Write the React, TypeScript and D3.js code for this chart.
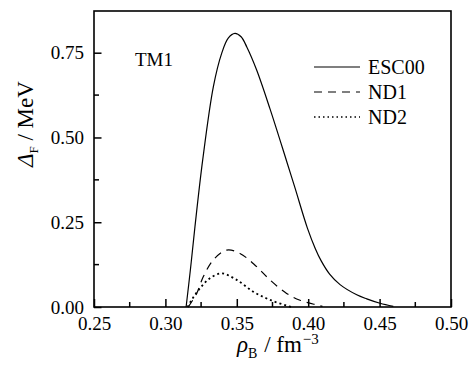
import { useEffect, useRef } from "react"
import * as d3 from "d3"

const xTicks = [0.25, 0.3, 0.35, 0.4, 0.45, 0.5]
const yTicks = [0, 0.25, 0.5, 0.75]

// rho_B (fm^-3) and gap (MeV)
const escX = [0.3145, 0.3175, 0.3207, 0.3261, 0.3336, 0.3394, 0.344, 0.3487, 0.353, 0.357, 0.3639, 0.3732, 0.3849, 0.3907, 0.3995, 0.405, 0.4091, 0.415, 0.4223, 0.434, 0.441, 0.4503, 0.4596]
const escY = [0, 0.11, 0.237, 0.433, 0.65, 0.748, 0.793, 0.807, 0.797, 0.767, 0.699, 0.585, 0.43, 0.352, 0.232, 0.172, 0.136, 0.097, 0.066, 0.036, 0.024, 0.011, 0.002]

const nd1X = [0.316, 0.3219, 0.3265, 0.3336, 0.3429, 0.3522, 0.3639, 0.3732, 0.3849, 0.3943, 0.406, 0.41]
const nd1Y = [0, 0.04, 0.089, 0.139, 0.168, 0.158, 0.119, 0.08, 0.04, 0.02, 0.006, 0.002]

const nd2X = [0.3155, 0.3184, 0.3242, 0.3312, 0.3394, 0.3499, 0.3616, 0.3732, 0.3849, 0.388]
const nd2Y = [0, 0.021, 0.055, 0.085, 0.099, 0.08, 0.045, 0.021, 0.004, 0]

const seriesNames = ["ESC00", "ND1", "ND2"]
const dashes = ["none", "8 6", "2 3"]

export default function App() {
  const ref = useRef<SVGSVGElement | null>(null)

  useEffect(() => {
    document.body.style.margin = "0"
    const svg = d3.select(ref.current)
    svg.selectAll("*").remove()

    const width = 471
    const height = 368
    const margin = { top: 11, right: 20, bottom: 61, left: 94 }
    const font = "Liberation Serif"

    svg.attr("width", width).attr("height", height)
      .style("font-family", font)

    const x = d3.scaleLinear()
      .domain([0.25, 0.5])
      .range([margin.left, width - margin.right])

    const y = d3.scaleLinear()
      .domain([0, 0.873])
      .range([height - margin.bottom, margin.top])

    const bottom = height - margin.bottom

    // X Axis (ticks inside)
    const xAxis = svg.append("g")
      .attr("transform", `translate(0,${bottom})`)
      .call(d3.axisBottom(x).tickValues(xTicks).tickSize(-8).tickPadding(10).tickFormat(d3.format(".2f")))
    xAxis.attr("font-family", null)
    xAxis.select(".domain").remove()
    xAxis.selectAll("line").attr("stroke", "#000").attr("stroke-width", 1.5)
    xAxis.selectAll("text").style("font-family", font).attr("font-size", 19).attr("fill", "#000")

    const xMinor = d3.range(0, 5).map(i => 0.275 + i * 0.05)
    svg.append("g").selectAll("line")
      .data(xMinor)
      .enter()
      .append("line")
      .attr("x1", d => x(d)).attr("x2", d => x(d))
      .attr("y1", bottom).attr("y2", bottom - 5)
      .attr("stroke", "#000").attr("stroke-width", 1.5)

    // Y Axis
    const yAxis = svg.append("g")
      .attr("transform", `translate(${margin.left},0)`)
      .call(d3.axisLeft(y).tickValues(yTicks).tickSize(-7.5).tickPadding(10).tickFormat(d3.format(".2f")))
    yAxis.attr("font-family", null)
    yAxis.select(".domain").remove()
    yAxis.selectAll("line").attr("stroke", "#000").attr("stroke-width", 1.5)
    yAxis.selectAll("text").style("font-family", font).attr("font-size", 19).attr("fill", "#000")

    const yMinor = [0.125, 0.375, 0.625]
    svg.append("g").selectAll("line")
      .data(yMinor)
      .enter()
      .append("line")
      .attr("x1", margin.left).attr("x2", margin.left + 5)
      .attr("y1", d => y(d)).attr("y2", d => y(d))
      .attr("stroke", "#000").attr("stroke-width", 1.5)

    // frame
    svg.append("rect")
      .attr("x", margin.left).attr("y", margin.top)
      .attr("width", width - margin.right - margin.left)
      .attr("height", bottom - margin.top)
      .attr("fill", "none").attr("stroke", "#000").attr("stroke-width", 1.6)

    // curves
    const line = d3.line<[number, number]>()
      .x(d => x(d[0]))
      .y(d => y(d[1]))
      .curve(d3.curveCatmullRom.alpha(0.5))

    const all = [
      d3.zip(escX, escY) as [number, number][],
      d3.zip(nd1X, nd1Y) as [number, number][],
      d3.zip(nd2X, nd2Y) as [number, number][],
    ]

    all.forEach((pts, i) => {
      svg.append("path")
        .attr("d", line(pts))
        .attr("fill", "none")
        .attr("stroke", "#000")
        .attr("stroke-width", i === 2 ? 1.8 : 1.2)
        .attr("stroke-dasharray", dashes[i])
    })

    // legend
    const legendY = [67, 92, 117]
    seriesNames.forEach((name, i) => {
      svg.append("line")
        .attr("x1", 314).attr("x2", 360)
        .attr("y1", legendY[i]).attr("y2", legendY[i])
        .attr("stroke", "#000")
        .attr("stroke-width", i === 2 ? 1.5 : 1.2)
        .attr("stroke-dasharray", i === 2 ? "1.5 3" : dashes[i])
      svg.append("text")
        .attr("x", 368).attr("y", legendY[i] + 7)
        .attr("font-size", 20)
        .text(name)
    })

    svg.append("text")
      .attr("x", 135).attr("y", 66)
      .attr("font-size", 19)
      .text("TM1")

    // axis titles
    const xt = svg.append("text")
      .attr("x", 237).attr("y", 352)
      .attr("font-size", 23)
    xt.append("tspan").attr("font-style", "italic").text("ρ")
    xt.append("tspan").attr("font-size", 14).attr("dy", 6).text("B")
    xt.append("tspan").attr("dy", -6).attr("dx", 1).text(" / fm")
    xt.append("tspan").attr("font-size", 15).attr("dy", -8).attr("dx", 1).text("−3")

    const yt = svg.append("text")
      .attr("transform", "translate(33,167) rotate(-90)")
      .attr("font-size", 23)
    yt.append("tspan").attr("font-style", "italic").text("Δ")
    yt.append("tspan").attr("font-size", 13).attr("dy", 5).text("F")
    yt.append("tspan").attr("dy", -5).text(" / MeV")
  }, [])

  return <svg ref={ref} />
}
